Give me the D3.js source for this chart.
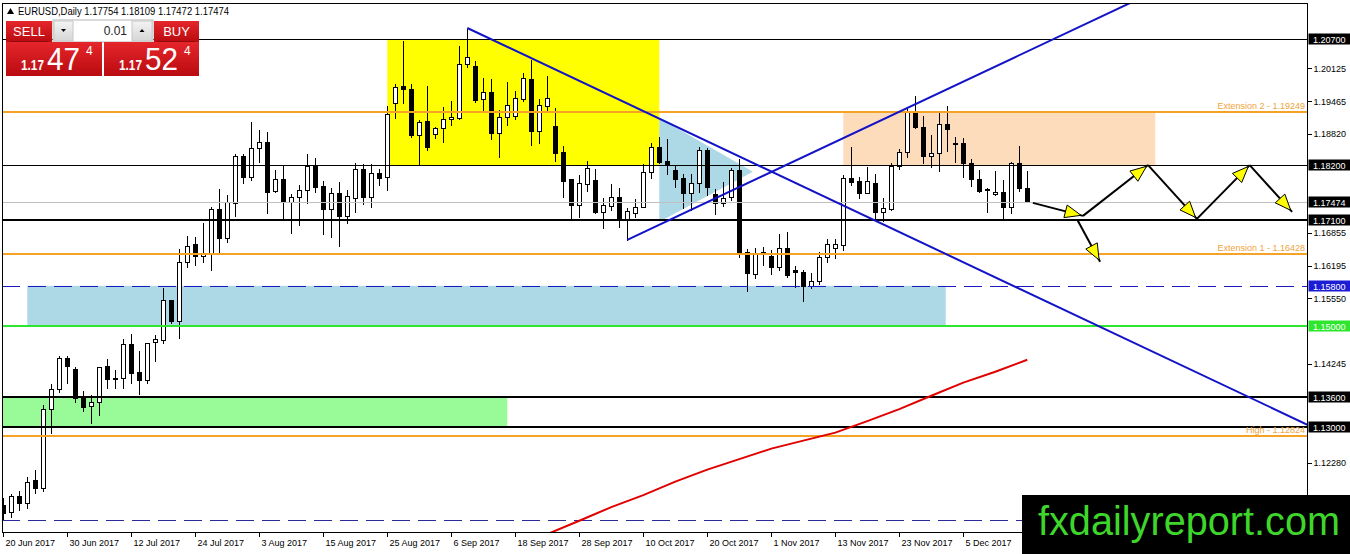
<!DOCTYPE html>
<html>
<head>
<meta charset="utf-8">
<script src="https://cdn.jsdelivr.net/npm/d3@7"></script>
<style>
  body { margin: 0; background: #fff; }
  svg { display: block; font-family: "Liberation Sans", Arial, sans-serif; }
</style>
</head>
<body>
<svg id="chart" width="1350" height="554"></svg>
<script>
// ---- data ----
const tickIdx = [0, 8, 16, 24, 32, 40, 48, 56, 64, 72, 80, 88, 96, 104, 112, 120];
const tickLabels = ['20 Jun 2017', '30 Jun 2017', '12 Jul 2017', '24 Jul 2017', '3 Aug 2017',
  '15 Aug 2017', '25 Aug 2017', '6 Sep 2017', '18 Sep 2017', '28 Sep 2017', '10 Oct 2017',
  '20 Oct 2017', '1 Nov 2017', '13 Nov 2017', '23 Nov 2017', '5 Dec 2017'];

// open, high, low, close
const candles = [
  [1.11452,1.11611,1.11154,1.11293],[1.11313,1.11690,1.11213,1.11630],[1.11630,1.11750,1.11352,1.11491],
  [1.11491,1.12028,1.11392,1.11908],[1.11948,1.12167,1.11690,1.11789],[1.11789,1.13458,1.11730,1.13358],
  [1.13358,1.13875,1.12882,1.13755],[1.13755,1.14431,1.13696,1.14371],[1.14371,1.14431,1.13875,1.14212],
  [1.14153,1.14212,1.13497,1.13577],[1.13597,1.13736,1.13319,1.13398],[1.13418,1.13656,1.13080,1.13497],
  [1.13497,1.14212,1.13239,1.14192],[1.14212,1.14371,1.13775,1.13954],[1.13974,1.14153,1.13775,1.13954],
  [1.13974,1.14768,1.13775,1.14649],[1.14649,1.14868,1.13875,1.14073],[1.14093,1.14530,1.13656,1.13934],
  [1.13934,1.14689,1.13875,1.14669],[1.14689,1.14848,1.14312,1.14748],[1.14729,1.15781,1.14669,1.15523],
  [1.15523,1.15543,1.15066,1.15106],[1.15106,1.16556,1.14768,1.16278],[1.16278,1.16814,1.16178,1.16595],
  [1.16635,1.16794,1.16218,1.16397],[1.16397,1.17072,1.16278,1.16456],[1.16437,1.17390,1.16119,1.17330],
  [1.17330,1.17747,1.16456,1.16754],[1.16754,1.17628,1.16675,1.17469],[1.17449,1.18442,1.17191,1.18383],
  [1.18383,1.18442,1.17847,1.17966],[1.17966,1.19078,1.17906,1.18542],[1.18542,1.18919,1.18264,1.18661],
  [1.18661,1.18879,1.17251,1.17668],[1.17688,1.18125,1.17668,1.17926],[1.17926,1.18204,1.17112,1.17489],
  [1.17469,1.17648,1.16854,1.17569],[1.17569,1.17827,1.17012,1.17708],[1.17708,1.18442,1.17449,1.18184],
  [1.18184,1.18363,1.17668,1.17767],[1.17787,1.17906,1.16834,1.17330],[1.17330,1.17767,1.16774,1.17648],
  [1.17648,1.17886,1.16595,1.17191],[1.17191,1.17727,1.17052,1.17588],[1.17549,1.18264,1.17271,1.18125],
  [1.18125,1.18244,1.17430,1.17569],[1.17569,1.18244,1.17370,1.18045],[1.18045,1.18145,1.17807,1.17946],
  [1.17966,1.19396,1.17708,1.19217],[1.19435,1.19833,1.19138,1.19753],[1.19773,1.20687,1.19435,1.19713],
  [1.19713,1.19833,1.18760,1.18800],[1.18800,1.19118,1.18204,1.19058],[1.19078,1.19793,1.18502,1.18562],
  [1.18820,1.18979,1.18740,1.18939],[1.18939,1.19376,1.18661,1.19118],[1.19118,1.19495,1.18998,1.19157],
  [1.19138,1.20587,1.19118,1.20210],[1.20210,1.20925,1.20150,1.20349],[1.20170,1.20289,1.19455,1.19495],
  [1.19515,1.19952,1.19277,1.19654],[1.19654,1.19932,1.18720,1.18840],[1.18840,1.19316,1.18363,1.19157],
  [1.19157,1.19872,1.18998,1.19396],[1.19177,1.19694,1.19118,1.19535],[1.19515,1.20051,1.19475,1.19932],
  [1.19912,1.20309,1.18601,1.18879],[1.18879,1.19535,1.18641,1.19396],[1.19376,1.19991,1.19296,1.19535],
  [1.18979,1.19356,1.18284,1.18442],[1.18462,1.18601,1.17569,1.17886],[1.17926,1.17946,1.17152,1.17410],
  [1.17410,1.18025,1.17171,1.17847],[1.17827,1.18303,1.17688,1.18145],[1.17906,1.18145,1.17251,1.17271],
  [1.17271,1.17569,1.16953,1.17410],[1.17390,1.17847,1.17310,1.17569],[1.17569,1.17767,1.16973,1.17132],
  [1.17112,1.17370,1.16715,1.17291],[1.17251,1.17549,1.17171,1.17370],[1.17370,1.18244,1.17370,1.18065],
  [1.18065,1.18661,1.17946,1.18562],[1.18562,1.18780,1.18244,1.18264],[1.18284,1.18740,1.18025,1.18204],
  [1.18105,1.18204,1.17767,1.17926],[1.17946,1.18045,1.17350,1.17648],[1.17648,1.18045,1.17310,1.17847],
  [1.17847,1.18581,1.17668,1.18502],[1.18502,1.18562,1.17608,1.17767],[1.17628,1.17747,1.17231,1.17449],
  [1.17449,1.17886,1.17390,1.17549],[1.17569,1.18164,1.17509,1.18105],[1.18105,1.18343,1.16377,1.16456],
  [1.16476,1.16556,1.15702,1.16059],[1.16039,1.16576,1.15960,1.16456],[1.16476,1.16595,1.16218,1.16437],
  [1.16397,1.16536,1.16039,1.16178],[1.16178,1.16854,1.16119,1.16556],[1.16556,1.16893,1.15980,1.16019],
  [1.16119,1.16218,1.15781,1.16079],[1.16079,1.16139,1.15503,1.15801],[1.15801,1.16079,1.15761,1.15900],
  [1.15900,1.16496,1.15841,1.16377],[1.16377,1.16754,1.16278,1.16635],[1.16556,1.16754,1.16357,1.16635],
  [1.16615,1.18025,1.16516,1.17946],[1.17946,1.18581,1.17807,1.17866],[1.17886,1.17986,1.17549,1.17648],
  [1.17648,1.18184,1.17648,1.17886],[1.17847,1.18045,1.17152,1.17271],[1.17271,1.17569,1.17092,1.17350],
  [1.17330,1.18264,1.17310,1.18184],[1.18184,1.18542,1.18125,1.18462],[1.18462,1.19336,1.18363,1.19277],
  [1.19237,1.19594,1.18939,1.18959],[1.18959,1.19197,1.18244,1.18383],[1.18383,1.18820,1.18164,1.18442],
  [1.18442,1.19277,1.18085,1.19018],[1.19018,1.19396,1.18482,1.18919],[1.18641,1.18780,1.18264,1.18621],
  [1.18641,1.18760,1.17966,1.18244],[1.18244,1.18343,1.17787,1.17926],[1.17926,1.18125,1.17668,1.17688],
  [1.17727,1.17767,1.17271,1.17708],[1.17628,1.18105,1.17608,1.17668],[1.17668,1.17926,1.17152,1.17370],
  [1.17370,1.18284,1.17251,1.18244],[1.18244,1.18601,1.17688,1.17747],[1.17754,1.18109,1.17472,1.17474]
];

// 200-day moving average, sampled every 4 bars
const maIdx  = [68, 72, 76, 80, 84, 88, 92, 96, 100, 104, 108, 112, 116, 120, 124, 128];
const maVals = [1.10866, 1.11130, 1.11402, 1.11640, 1.11908, 1.12147, 1.12355, 1.12564,
                1.12723, 1.12882, 1.13110, 1.13348, 1.13616, 1.13875, 1.14093, 1.14331];

const priceTicks = [1.20125, 1.19465, 1.18820, 1.16855, 1.16195, 1.15550,
                    1.14245, 1.12280];

const thinLevels  = [1.207, 1.182];
const thickLevels = [1.171, 1.136, 1.13];
const bidPrice    = 1.17474;
const extLevels   = [1.19249, 1.16428, 1.12824];
const extLabels   = ['Extension 2 - 1.19249', 'Extension 1 - 1.16428', 'High - 1.12824'];
const blueDashLevel  = 1.158;
const lowerDashLevel = 1.11154;
const greenLevel     = 1.15;

// zones: [fromBar, toBar, lowPrice, highPrice]
const yellowZone = [48, 82, 1.182, 1.207];
const blueZone   = [3, 117.8, 1.150, 1.158];
const peachZone  = [105, 144, 1.182, 1.19249];
const greenZone  = [-1, 63, 1.130, 1.136];
const blueWedge  = [[82, 1.19138], [93.7, 1.18065], [82, 1.17072]];

const trendDown = [[58, 1.20925], [163, 1.1304]];
const trendUp   = [[78, 1.16715], [113, 1.19336]];

// projected path: [fromBar, fromPrice, toBar, toPrice]
const arrowSegs = [
  [128.7, 1.17449, 134.96, 1.17191],
  [134.96, 1.17191, 143.1, 1.1820],
  [134.3, 1.1710, 137.1, 1.16278],
  [143.1, 1.1820, 149.2, 1.1713],
  [149.2, 1.1713, 155.8, 1.1820],
  [155.8, 1.1820, 161.1, 1.17271]
];

const symbol = 'EURUSD,Daily';
const lotSize = '0.01';
const bidQuote = ['1.17', '47', '4'];
const askQuote = ['1.17', '52', '4'];

// ---- drawing ----
const svg = d3.select('#chart');
const W = 1350, H = 554;
const plotL = 2, plotR = 1307, plotT = 3, plotB = 532;

const x = d3.scaleLinear().domain([0, 128]).range([3.3, 1027.3]);
const y = d3.scaleLinear().domain([1.13, 1.207]).range([426.7, 39.3]);
const px = (i) => Math.round(x(i)) + 0.5;
const py = (p) => Math.round(y(p)) + 0.5;

svg.append('rect').attr('width', W).attr('height', H).attr('fill', '#fff');

const defs = svg.append('defs');
defs.append('clipPath').attr('id', 'plot')
  .append('rect').attr('x', plotL).attr('y', plotT).attr('width', plotR - plotL).attr('height', plotB - plotT);

const redGrad = defs.append('linearGradient').attr('id', 'red').attr('x1', 0).attr('y1', 0).attr('x2', 0).attr('y2', 1);
redGrad.append('stop').attr('offset', '0%').attr('stop-color', '#e5262b');
redGrad.append('stop').attr('offset', '100%').attr('stop-color', '#b90b10');
const grayGrad = defs.append('linearGradient').attr('id', 'gray').attr('x1', 0).attr('y1', 0).attr('x2', 0).attr('y2', 1);
grayGrad.append('stop').attr('offset', '0%').attr('stop-color', '#f4f4f4');
grayGrad.append('stop').attr('offset', '100%').attr('stop-color', '#d6d6d6');

const plot = svg.append('g').attr('clip-path', 'url(#plot)');

// background zones
function zone(z, color) {
  plot.append('rect')
    .attr('x', x(z[0])).attr('width', x(z[1]) - x(z[0]))
    .attr('y', y(z[3])).attr('height', y(z[2]) - y(z[3]))
    .attr('fill', color);
}
zone(greenZone, '#98fb98');
zone(blueZone, '#add8e6');
zone(yellowZone, '#ffff00');
zone(peachZone, '#fddcbc');
plot.append('polygon')
  .attr('points', blueWedge.map(d => [x(d[0]), y(d[1])].join(',')).join(' '))
  .attr('fill', '#add8e6');

// candles
const cg = plot.append('g').attr('shape-rendering', 'crispEdges');
cg.selectAll('line')
  .data(candles)
  .join('line')
  .attr('x1', (d, i) => px(i)).attr('x2', (d, i) => px(i))
  .attr('y1', d => py(d[1])).attr('y2', d => py(d[2]))
  .attr('stroke', '#000').attr('stroke-width', 1);
cg.selectAll('rect')
  .data(candles)
  .join('rect')
  .attr('x', (d, i) => px(i) - 2)
  .attr('width', 4)
  .attr('y', d => py(Math.max(d[0], d[3])))
  .attr('height', d => Math.max(1, py(Math.min(d[0], d[3])) - py(Math.max(d[0], d[3]))))
  .attr('fill', d => d[3] >= d[0] ? '#fff' : '#000')
  .attr('stroke', '#000').attr('stroke-width', 1);

// horizontal levels
function hline(p, color, width, dash) {
  const yy = width % 2 ? py(p) : Math.round(y(p));
  const l = plot.append('line')
    .attr('x1', plotL).attr('x2', plotR).attr('y1', yy).attr('y2', yy)
    .attr('stroke', color).attr('stroke-width', width)
    .attr('shape-rendering', 'crispEdges');
  if (dash) l.attr('stroke-dasharray', dash);
}
hline(bidPrice, '#c0c0c0', 1);
thinLevels.forEach(p => hline(p, '#000', 1));
thickLevels.forEach(p => hline(p, '#000', 2));
extLevels.forEach(p => hline(p, '#f4a326', 2));
hline(greenLevel, '#2ee62e', 2);
hline(blueDashLevel, '#1a1ac0', 1, '18,8');
hline(lowerDashLevel, '#2a2a98', 1, '18,8');

plot.selectAll('text.ext')
  .data(extLevels)
  .join('text')
  .attr('class', 'ext')
  .attr('x', plotR - 2)
  .attr('y', d => y(d) - 3)
  .attr('text-anchor', 'end')
  .attr('font-size', 9)
  .attr('fill', '#f0a43a')
  .text((d, k) => extLabels[k]);

// trend lines
function ray(pts, toBar) {
  const slope = (pts[1][1] - pts[0][1]) / (pts[1][0] - pts[0][0]);
  const endP = pts[0][1] + slope * (toBar - pts[0][0]);
  plot.append('line')
    .attr('x1', x(pts[0][0])).attr('y1', y(pts[0][1]))
    .attr('x2', x(toBar)).attr('y2', y(endP))
    .attr('stroke', '#1212c8').attr('stroke-width', 2);
}
ray(trendDown, 175);
ray(trendUp, 175);

// moving average
plot.append('path')
  .datum(maIdx.map((d, k) => [d, maVals[k]]))
  .attr('d', d3.line().x(d => x(d[0])).y(d => y(d[1])))
  .attr('fill', 'none').attr('stroke', '#e00000').attr('stroke-width', 2);

// projected path with arrow heads
const ag = plot.append('g');
arrowSegs.forEach(s => {
  ag.append('line').attr('x1', x(s[0])).attr('y1', y(s[1])).attr('x2', x(s[2])).attr('y2', y(s[3]))
    .attr('stroke', '#000').attr('stroke-width', 2);
});
arrowSegs.forEach(s => {
  const x1 = x(s[0]), y1 = y(s[1]), x2 = x(s[2]), y2 = y(s[3]);
  const a = Math.atan2(y2 - y1, x2 - x1);
  const L = 16, Wd = 6.5;
  const tx = x2 - 2 * Math.cos(a), ty = y2 - 2 * Math.sin(a);
  const bx = tx - L * Math.cos(a), by = ty - L * Math.sin(a);
  const pts = [[tx, ty],
    [bx + Wd * Math.sin(a), by - Wd * Math.cos(a)],
    [bx - Wd * Math.sin(a), by + Wd * Math.cos(a)]];
  ag.append('polygon').attr('points', pts.map(p => p.join(',')).join(' '))
    .attr('fill', '#ffff00').attr('stroke', '#000').attr('stroke-width', 1);
});

// frame
svg.append('rect')
  .attr('x', plotL + 0.5).attr('y', plotT + 0.5)
  .attr('width', plotR - plotL).attr('height', plotB - plotT)
  .attr('fill', 'none').attr('stroke', '#000').attr('stroke-width', 1)
  .attr('shape-rendering', 'crispEdges');

// price axis
const yAxis = svg.append('g')
  .attr('transform', `translate(${plotR + 0.5},0)`)
  .call(d3.axisRight(y).tickValues(priceTicks).tickSize(4).tickPadding(2)
    .tickFormat(d3.format('.5f')));
yAxis.select('.domain').remove();
yAxis.selectAll('text').attr('font-size', 9).attr('font-family', '"Liberation Sans", Arial, sans-serif').attr('fill', '#000');
yAxis.selectAll('line').attr('stroke', '#000').attr('shape-rendering', 'crispEdges');

// date axis
const xAxis = svg.append('g')
  .attr('transform', `translate(0,${plotB + 0.5})`)
  .call(d3.axisBottom(x).tickValues(tickIdx).tickSize(4).tickPadding(3)
    .tickFormat((d, k) => tickLabels[k]));
xAxis.select('.domain').remove();
xAxis.selectAll('.tick').attr('transform', d => `translate(${px(d)},0)`);
xAxis.selectAll('text').attr('font-size', 9).attr('text-anchor', 'start').attr('x', 2)
  .attr('font-family', '"Liberation Sans", Arial, sans-serif').attr('fill', '#000');
xAxis.selectAll('line').attr('stroke', '#000').attr('shape-rendering', 'crispEdges');

// price tags on the axis
function tag(p, color) {
  const yy = y(p);
  svg.append('rect').attr('x', plotR + 1.5).attr('y', Math.round(yy) - 5.5)
    .attr('width', W - plotR - 1.5).attr('height', 11).attr('fill', color);
  svg.append('text').attr('x', plotR + 6).attr('y', Math.round(yy) + 3.5)
    .attr('font-size', 9).attr('fill', '#fff').text(p.toFixed(5));
}
thinLevels.concat([bidPrice], thickLevels).forEach(p => tag(p, '#000'));
tag(blueDashLevel, '#1c1cd4');
tag(greenLevel, '#2ee62e');

// title
svg.append('path').attr('d', 'M7,14 L10.5,8 L14,14 Z').attr('fill', '#000');
const last = candles[candles.length - 1];
svg.append('text').attr('x', 18).attr('y', 15).attr('font-size', 10.5)
  .attr('textLength', 211).attr('lengthAdjust', 'spacingAndGlyphs')
  .text(`${symbol} ${last.map(v => v.toFixed(5)).join(' ')}`);

// one-click trading panel
const panel = svg.append('g');
panel.append('rect').attr('x', 53).attr('y', 20).attr('width', 100).attr('height', 22)
  .attr('fill', '#fff').attr('stroke', '#b5b5b5');
panel.append('rect').attr('x', 54).attr('y', 21).attr('width', 19).attr('height', 20).attr('fill', 'url(#gray)').attr('stroke', '#c8c8c8');
panel.append('rect').attr('x', 132).attr('y', 21).attr('width', 20).attr('height', 20).attr('fill', 'url(#gray)').attr('stroke', '#c8c8c8');
panel.append('path').attr('d', 'M61,29 L66,29 L63.5,32 Z').attr('fill', '#000');
panel.append('path').attr('d', 'M139.5,32 L144.5,32 L142,29 Z').attr('fill', '#000');
panel.append('text').attr('x', 127).attr('y', 35).attr('text-anchor', 'end')
  .attr('font-size', 12).attr('fill', '#222').text(lotSize);

function sideButton(x0, w, label) {
  panel.append('rect').attr('x', x0).attr('y', 21).attr('width', w).attr('height', 21).attr('fill', 'url(#red)');
  panel.append('line').attr('x1', x0 + 4).attr('x2', x0 + w - 4).attr('y1', 41.5).attr('y2', 41.5)
    .attr('stroke', '#8c0a0c').attr('stroke-width', 1);
  panel.append('text').attr('x', x0 + w / 2).attr('y', 36).attr('text-anchor', 'middle')
    .attr('font-size', 13).attr('fill', '#fff').text(label);
}
function quoteBox(x0, w, q) {
  panel.append('rect').attr('x', x0).attr('y', 42).attr('width', w).attr('height', 34).attr('fill', 'url(#red)');
  panel.append('text').attr('x', x0 + 15).attr('y', 70).attr('font-size', 14).attr('font-weight', 'bold')
    .attr('fill', '#fff').attr('textLength', 23).attr('lengthAdjust', 'spacingAndGlyphs').text(q[0]);
  panel.append('text').attr('x', x0 + 41).attr('y', 70).attr('font-size', 32)
    .attr('fill', '#fff').attr('textLength', 33).attr('lengthAdjust', 'spacingAndGlyphs').text(q[1]);
  panel.append('text').attr('x', x0 + 80).attr('y', 55).attr('font-size', 12)
    .attr('fill', '#fff').text(q[2]);
}
sideButton(6, 46, 'SELL');
sideButton(154, 45, 'BUY');
quoteBox(6, 96, bidQuote);
quoteBox(104, 95, askQuote);

// watermark
svg.append('rect').attr('x', 1022).attr('y', 495).attr('width', W - 1022).attr('height', H - 495).attr('fill', '#000');
svg.append('text').attr('x', 1038).attr('y', 535).attr('font-size', 40)
  .attr('font-family', '"Liberation Sans", Arial, sans-serif')
  .attr('fill', '#3fd62c').attr('textLength', 302).attr('lengthAdjust', 'spacingAndGlyphs')
  .text('fxdailyreport.com');
</script>
</body>
</html>
